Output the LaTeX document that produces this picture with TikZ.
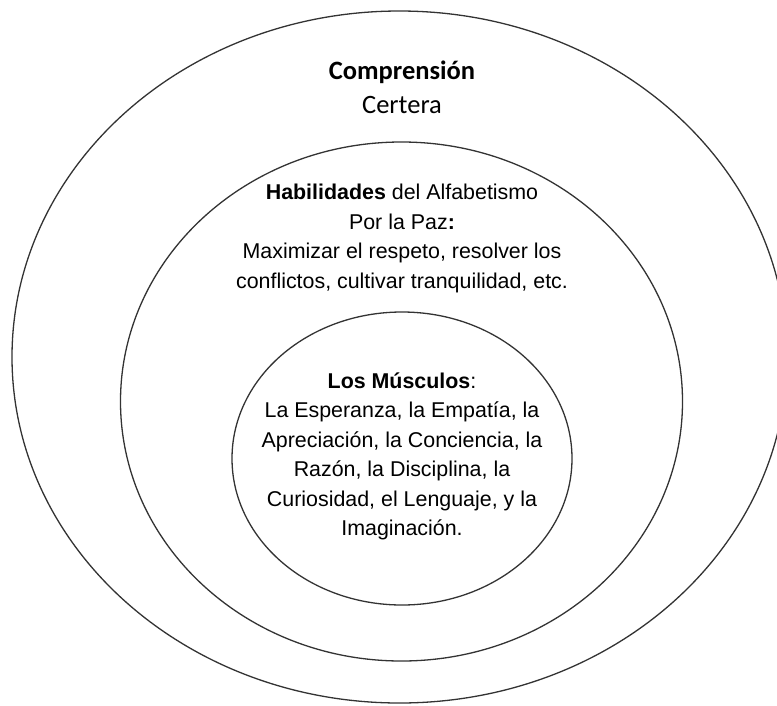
\documentclass[tikz,border=0pt]{standalone}
\usepackage{fontspec}
\setmainfont{Liberation Sans}
\newfontfamily\calibrifont{Carlito}
\begin{document}
\begin{tikzpicture}[x=1pt,y=-1pt,
        ring/.style={line width=1.3pt,black!80},
        ringtext/.style={align=center,inner sep=0pt,font=\fontsize{21.4}{29.5}\selectfont},
        toptext/.style={inner sep=0pt,font=\calibrifont\fontsize{26.5}{30}\selectfont}]
        \useasboundingbox (0,0) rectangle (777,705);
        \clip (0,0) rectangle (777,705);
        % draw the three rings
        \draw[ring] (399.5,357) ellipse [x radius=387.5pt, y radius=346pt];
        \draw[ring] (401.5,401.5) ellipse [x radius=281pt, y radius=259.5pt];
        \draw[ring] (402,458.5) ellipse [x radius=170pt, y radius=146.5pt];
        % write the labels
        \node[toptext] (comprension) at (402,72) {\bfseries Comprensión};
        \node[toptext] (certera) at (402,105) {Certera};
        \node[ringtext] (habilidades) at (402,238.5) {\textbf{Habilidades} del Alfabetismo\\
            Por la Paz\textbf{:}\\
            Maximizar el respeto, resolver los\\
            conflictos, cultivar tranquilidad, etc.};
        \node[ringtext] (musculos) at (402,456.5) {\textbf{Los Músculos}:\\
            La Esperanza, la Empatía, la\\
            Apreciación, la Conciencia, la\\
            Razón, la Disciplina, la\\
            Curiosidad, el Lenguaje, y la\\
            Imaginación.};
\end{tikzpicture}
\end{document}
